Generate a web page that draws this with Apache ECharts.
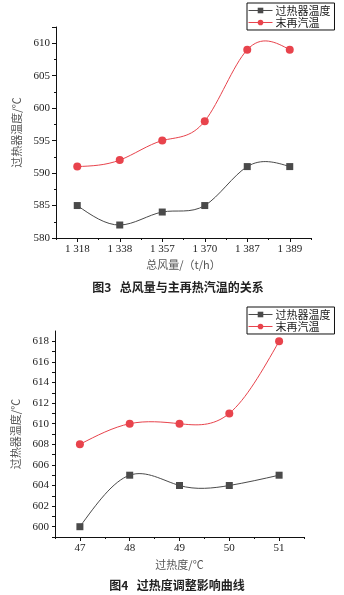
<!DOCTYPE html>
<html>
<head>
<meta charset="utf-8">
<style>
  html, body { margin: 0; padding: 0; background: #fff; }
  #chart { width: 344px; height: 595px; }
</style>
<script src="https://cdn.jsdelivr.net/npm/echarts@6/dist/echarts.min.js"></script>
</head>
<body>
<div id="chart"></div>
<script>
// Figure 3: total air flow vs. main / reheat steam temperature
const airFlowCategories = ['1 318', '1 338', '1 357', '1 370', '1 387', '1 389'];
const superheaterTempFig3 = [585, 582, 584, 585, 591, 591];
const reheatTempFig3 = [591, 592, 595, 598, 609, 609];

// Figure 4: superheat degree adjustment
const superheatCategories = ['47', '48', '49', '50', '51'];
const superheaterTempFig4 = [600, 605, 604, 604, 605];
const reheatTempFig4 = [608, 610, 610, 611, 618];

const seriesNames = ['过热器温度', '末再汽温'];
const captions = ['图3   总风量与主再热汽温的关系', '图4   过热度调整影响曲线'];
const axisNames = { yName: '过热器温度/℃', x3: '总风量/（t/h）', x4: '过热度/℃' };

const serif = '"Liberation Serif", "Times New Roman", "Noto Sans CJK SC", serif';
const cjk = '"Noto Sans CJK SC", sans-serif';
const BLACK = '#4a4a4a';
const RED = '#e8434c';
const AXIS = '#111';

const chart = echarts.init(document.getElementById('chart'), null, { renderer: 'canvas' });

// Natural cubic spline through pixel points, returned as bezier segments
function splineSegments(pts) {
  const n = pts.length;
  if (n < 2) return [];
  const h = [], d = [];
  for (let i = 0; i < n - 1; i++) {
    h.push(pts[i + 1][0] - pts[i][0]);
    d.push((pts[i + 1][1] - pts[i][1]) / h[i]);
  }
  // second derivatives (natural ends), Thomas algorithm
  const M = new Array(n).fill(0);
  if (n > 2) {
    const a = [], b = [], c = [], r = [];
    for (let i = 1; i < n - 1; i++) {
      a.push(h[i - 1]); b.push(2 * (h[i - 1] + h[i])); c.push(h[i]);
      r.push(6 * (d[i] - d[i - 1]));
    }
    const m = b.length;
    for (let i = 1; i < m; i++) {
      const w = a[i] / b[i - 1];
      b[i] -= w * c[i - 1];
      r[i] -= w * r[i - 1];
    }
    const sol = new Array(m);
    sol[m - 1] = r[m - 1] / b[m - 1];
    for (let i = m - 2; i >= 0; i--) sol[i] = (r[i] - c[i] * sol[i + 1]) / b[i];
    for (let i = 0; i < m; i++) M[i + 1] = sol[i];
  }
  const segs = [];
  for (let i = 0; i < n - 1; i++) {
    const s0 = d[i] - h[i] * (2 * M[i] + M[i + 1]) / 6;
    const s1 = d[i] + h[i] * (M[i] + 2 * M[i + 1]) / 6;
    const [x0, y0] = pts[i], [x1, y1] = pts[i + 1];
    segs.push({
      x1: x0, y1: y0, x2: x1, y2: y1,
      cpx1: x0 + h[i] / 3, cpy1: y0 + s0 * h[i] / 3,
      cpx2: x1 - h[i] / 3, cpy2: y1 - s1 * h[i] / 3
    });
  }
  return segs;
}

function curveSeries(xAxisIndex, yAxisIndex, values, color) {
  return {
    type: 'custom', xAxisIndex, yAxisIndex, silent: true, z: 2,
    data: values.map((v, i) => [i, v]),
    renderItem(params, api) {
      if (params.dataIndex !== 0) return null;
      const pts = values.map((v, i) => api.coord([i, v]));
      return {
        type: 'group',
        children: splineSegments(pts).map(shape => ({
          type: 'bezierCurve', shape,
          style: { stroke: color, fill: null, lineWidth: 1 }
        }))
      };
    }
  };
}

function markerSeries(name, xAxisIndex, yAxisIndex, data, color, symbol, size) {
  return {
    name, type: 'line', xAxisIndex, yAxisIndex, data,
    symbol, symbolSize: size, showSymbol: true,
    itemStyle: { color }, lineStyle: { color, width: 0, opacity: 0 },
    emphasis: { disabled: true }, z: symbol === 'rect' ? 3 : 4
  };
}

function valueAxis(gridIndex, min, max, interval, labelStep, minor, gap) {
  return {
    type: 'value', gridIndex, min, max, interval,
    name: axisNames.yName, nameLocation: 'middle', nameGap: gap,
    nameTextStyle: { fontFamily: cjk, fontSize: 11, color: '#555' },
    axisLine: { show: true, lineStyle: { color: AXIS, width: 1 } },
    axisTick: { show: true, inside: false, length: minor ? 4 : 3, lineStyle: { color: AXIS } },
    minorTick: { show: minor, splitNumber: 2, length: 2, lineStyle: { color: AXIS } },
    splitLine: { show: false },
    axisLabel: {
      fontFamily: serif, fontSize: 11, color: '#222', margin: 6,
      showMaxLabel: false, showMinLabel: true,
      formatter: v => (Math.abs(v - Math.round(v / labelStep) * labelStep) < 1e-6 ? String(v) : '')
    }
  };
}

function catAxes(gridIndex, data, name, gap) {
  return [
    {
      type: 'category', gridIndex, data, boundaryGap: true,
      name, nameLocation: 'middle', nameGap: gap,
      nameTextStyle: { fontFamily: cjk, fontSize: 11, color: '#555' },
      axisLine: { lineStyle: { color: AXIS, width: 1 } },
      axisTick: { show: true, alignWithLabel: false, length: 2, lineStyle: { color: AXIS } },
      axisLabel: { fontFamily: serif, fontSize: 11, color: '#222', margin: 6 },
      splitLine: { show: false }
    },
    {
      type: 'category', gridIndex, data, boundaryGap: true, position: 'bottom',
      axisLine: { show: false },
      axisTick: { show: true, alignWithLabel: true, length: 4, lineStyle: { color: AXIS } },
      axisLabel: { show: false },
      splitLine: { show: false }
    }
  ];
}

function legend(top) {
  return {
    data: seriesNames, orient: 'vertical', left: 247, top,
    itemWidth: 24, itemHeight: 7, itemGap: 1,
    padding: [2, 4, 2, 1],
    borderColor: AXIS, borderWidth: 1, borderRadius: 0,
    lineStyle: { width: 1, opacity: 1 },
    textStyle: { fontFamily: cjk, fontSize: 11, color: '#222', padding: [0, 0, 0, -2] },
    selectedMode: false
  };
}

const captionStyle = { fontFamily: cjk, fontSize: 12, fontWeight: 'bold', color: '#222' };

chart.setOption({
  animation: false,
  backgroundColor: '#fff',
  title: [
    { text: captions[0], left: 173, top: 276, textAlign: 'center', textStyle: captionStyle },
    { text: captions[1], left: 172, top: 574, textAlign: 'center', textStyle: captionStyle }
  ],
  legend: [legend(3), legend(307)],
  grid: [
    { left: 56, top: 27, width: 255, height: 211, containLabel: false },
    { left: 55, top: 331, width: 249, height: 206, containLabel: false }
  ],
  xAxis: [
    ...catAxes(0, airFlowCategories, axisNames.x3, 21),
    ...catAxes(1, superheatCategories, axisNames.x4, 22)
  ],
  yAxis: [
    valueAxis(0, 580, 612.5, 5, 5, true, 30),
    valueAxis(1, 599, 619, 1, 2, false, 30)
  ],
  series: [
    curveSeries(0, 0, superheaterTempFig3, BLACK),
    curveSeries(0, 0, reheatTempFig3, RED),
    curveSeries(2, 1, superheaterTempFig4, BLACK),
    curveSeries(2, 1, reheatTempFig4, RED),
    markerSeries(seriesNames[0], 0, 0, superheaterTempFig3, BLACK, 'rect', 7),
    markerSeries(seriesNames[1], 0, 0, reheatTempFig3, RED, 'circle', 8),
    markerSeries(seriesNames[0], 2, 1, superheaterTempFig4, BLACK, 'rect', 7),
    markerSeries(seriesNames[1], 2, 1, reheatTempFig4, RED, 'circle', 8)
  ]
});
</script>
</body>
</html>
